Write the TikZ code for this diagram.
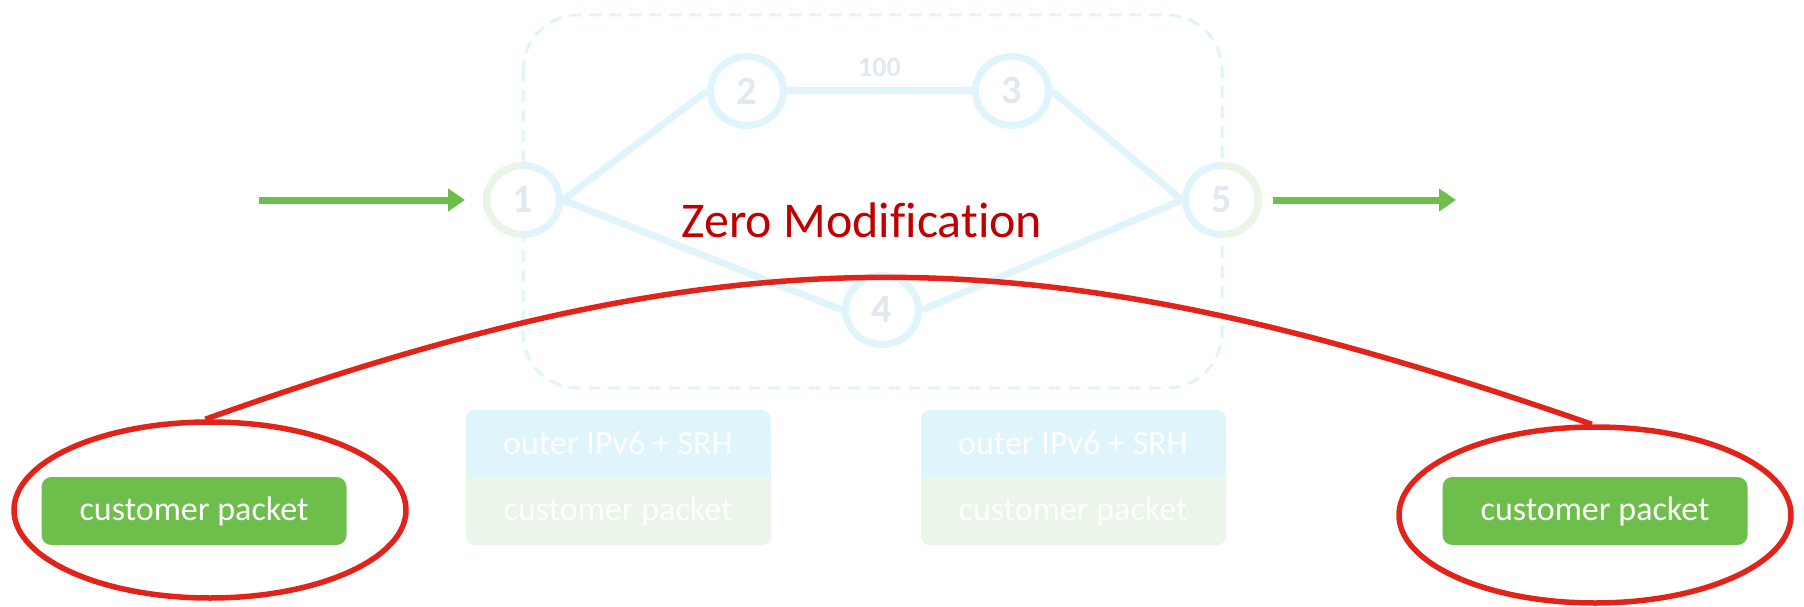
\documentclass[tikz,border=0pt]{standalone}
\usepackage{fontspec}
\setmainfont{Carlito}[Ligatures={NoCommon,NoRequired,NoContextual}]
\usetikzlibrary{shapes.geometric, positioning, arrows.meta}
\definecolor{linkblue}{HTML}{DFF4FB}
\definecolor{ringgreen}{HTML}{EAF5E6}
\definecolor{numgray}{HTML}{E1E8EF}
\definecolor{pktgreen}{HTML}{6DBE4B}
\definecolor{hlred}{HTML}{E2231A}
\definecolor{txtred}{HTML}{C00000}
\definecolor{bodygreen}{HTML}{EBF5E9}

\begin{document}
\begin{tikzpicture}[x=1pt,y=-1pt,on grid,
  router/.style={ellipse,draw=linkblue,fill=white,line width=7pt,minimum width=73pt,
    minimum height=69pt,inner sep=0pt,text=numgray,font=\fontsize{40}{40}\selectfont\bfseries},
  link/.style={draw=linkblue,line width=7pt},
  srdomain/.style={draw=linkblue,line width=3pt,dash pattern=on 12pt off 8pt,rounded corners=55pt},
  flow/.style={draw=pktgreen,line width=7pt,-{Triangle[length=17pt,width=22pt]}},
  hdr/.style={rectangle,text=white,minimum width=305pt,minimum height=67pt,inner sep=0pt,
    font=\fontsize{34}{34}\selectfont},
  pkt/.style={rectangle,rounded corners=10pt,fill=pktgreen,text=white,minimum width=305pt,
    minimum height=68pt,inner sep=0pt,font=\fontsize{34}{34}\selectfont},
  capring/.style={ellipse,draw=hlred,line width=5.5pt,minimum width=392pt,minimum height=176pt,inner sep=0pt},
  hl/.style={draw=hlred,line width=5.5pt}]
  \useasboundingbox (0,0) rectangle (1804,607);

  % SR domain
  \draw[srdomain] (523,15) rectangle (1222,388);

  \node[router] (n1) at (523,200) {1};
  \node[router] (n2) [above right=109pt and 224pt of n1] {2};
  \node[router] (n3) [right=265pt of n2] {3};
  \node[router] (n4) [below right=110pt and 359pt of n1] {4};
  \node[router] (n5) [right=699pt of n1] {5};
  \draw[ringgreen,line width=7pt] (n1.center) ++(0pt,34.5pt) arc[start angle=90,end angle=270,x radius=36.5pt,y radius=34.5pt];
  \draw[ringgreen,line width=7pt] (n5.center) ++(0pt,34.5pt) arc[start angle=90,end angle=-90,x radius=36.5pt,y radius=34.5pt];

  \path[link]
    (n1.east) edge (n2.west)
              edge (n4.west)
    (n2.east) edge node[above=11pt,inner sep=0pt,text=numgray,font=\fontsize{28}{28}\selectfont\bfseries] (w23) {100} (n3.west)
    (n3.east) edge (n5.west)
    (n4.east) edge (n5.west);

  % traffic in and out
  \coordinate (src) at (259,200);
  \coordinate (dst) at (1456,200);
  \draw[flow,shorten >=18pt] (src) -- (n1.west);
  \draw[flow,shorten <=11pt] (n5.east) -- (dst);

  \node[text=txtred,font=\fontsize{50}{50}\selectfont,anchor=base] (zm) at (862,237) {Zero Modification};

  % packets on the links
  \foreach \x in {466,921} {
    \fill[linkblue,rounded corners=9pt] (\x,410) rectangle ++(305,135);
    \fill[bodygreen,rounded corners=9pt] (\x,477) -- ++(0,68) -- ++(305,0) -- ++(0,-68);
  }
  \node[hdr] (h1) at (618,443) {outer IPv6 + SRH};
  \node[hdr] (b1) at (618,511) {customer packet};
  \node[hdr] (h2) at (1073,443) {outer IPv6 + SRH};
  \node[hdr] (b2) at (1073,511) {customer packet};

  % packets at the edges
  \node[pkt] (pin) at (194,511) {customer packet};
  \node[pkt] (pout) at (1595,511) {customer packet};
  \node[capring] (lring) at (210,510) {};
  \node[capring] (rring) at (1595,515) {};
  \draw[hl] (lring.93) .. controls +(546,-195) and +(-546,-190) .. (rring.92);
\end{tikzpicture}
\end{document}
